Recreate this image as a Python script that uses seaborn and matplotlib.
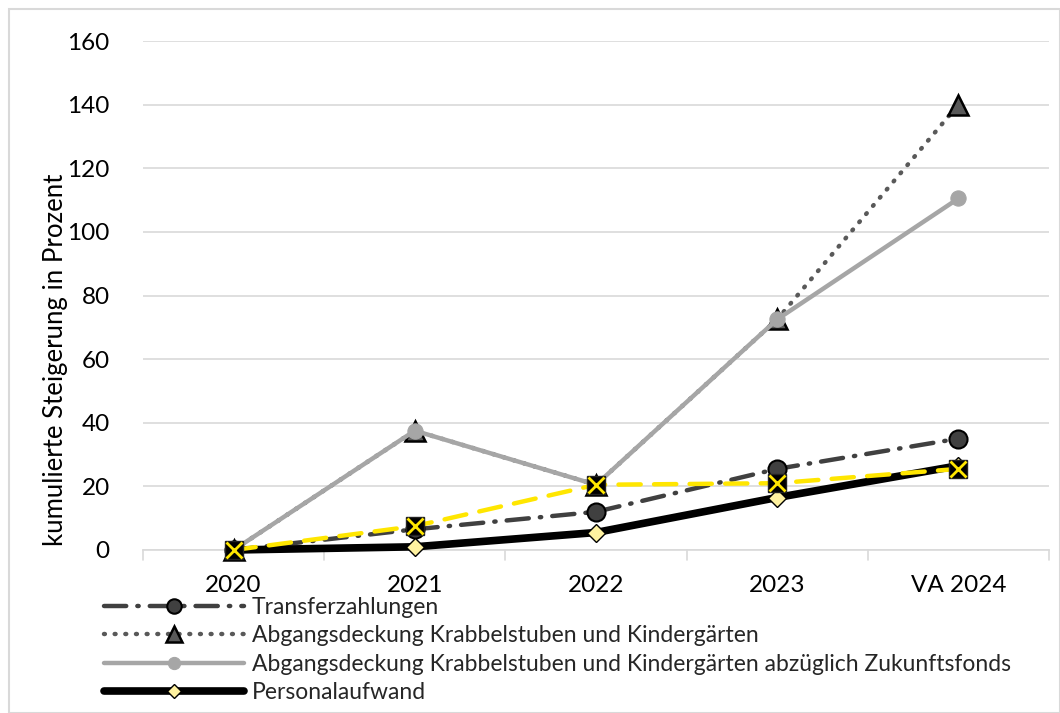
import matplotlib
matplotlib.use("Agg")
import matplotlib.pyplot as plt
from matplotlib.patches import Rectangle
import seaborn as sns
import pandas as pd

years = ["2020", "2021", "2022", "2023", "VA 2024"]
transferzahlungen = [0, 6.5, 12, 25.5, 35]
abgangsdeckung = [0, 37.5, 20.5, 72.5, 140]
abgangsdeckung_ohne_zf = [0, 37.5, 20.5, 72.5, 110.5]
personalaufwand = [0, 1, 5.5, 16.5, 26.5]
sonstige = [0, 7.5, 20.5, 21, 25.5]

labels = [
    "Transferzahlungen",
    "Abgangsdeckung Krabbelstuben und Kindergärten",
    "Abgangsdeckung Krabbelstuben und Kindergärten abzüglich Zukunftsfonds",
    "Personalaufwand",
]

sns.set_theme(style="white")
plt.rcParams["font.family"] = ["Lato", "DejaVu Sans"]

fig = plt.figure(figsize=(10.6, 7.13), dpi=100)
ax = fig.add_axes([143 / 1060, 1 - 550 / 713, (1049 - 143) / 1060, (550 - 41) / 713])

xpos = list(range(len(years)))

def frame(values):
    return pd.DataFrame({"x": xpos, "y": values})

sns.lineplot(data=frame(transferzahlungen), x="x", y="y", ax=ax, color="#404040",
             lw=3.2, linestyle=(0, (5, 2.5, 0.3, 2.5)), dash_capstyle="round",
             marker="o", markersize=13, markerfacecolor="#404040",
             markeredgecolor="black", markeredgewidth=1.5, label=labels[0], zorder=3)
sns.lineplot(data=frame(abgangsdeckung), x="x", y="y", ax=ax, color="#595959",
             lw=3.2, linestyle=(0, (0.2, 2.2)), dash_capstyle="round",
             marker="^", markersize=14, markerfacecolor="#595959",
             markeredgecolor="black", markeredgewidth=1.8, label=labels[1], zorder=4)
sns.lineplot(data=frame(abgangsdeckung_ohne_zf), x="x", y="y", ax=ax, color="#A6A6A6",
             lw=3.2, marker="o", markersize=11, markerfacecolor="#A6A6A6",
             markeredgecolor="#A6A6A6", label=labels[2], zorder=5)
sns.lineplot(data=frame(personalaufwand), x="x", y="y", ax=ax, color="black",
             lw=5.5, marker="D", markersize=9, markerfacecolor="#FFF2A0",
             markeredgecolor="black", markeredgewidth=1, label=labels[3], zorder=6)
sns.lineplot(data=frame(sonstige), x="x", y="y", ax=ax, color="#FFE600",
             lw=3.2, linestyle=(0, (5, 3)), dash_capstyle="round",
             marker="s", markersize=13, markerfacecolor="black",
             markeredgecolor="#222222", markeredgewidth=1, zorder=7, legend=False)
ax.plot(xpos, sonstige, linestyle="none", marker="x", markersize=11,
        markeredgecolor="#FFE600", markeredgewidth=2, zorder=8)
for line in ax.lines:
    line.set_clip_on(False)

ax.set_xlim(-0.5, len(years) - 0.5)
ax.set_ylim(0, 160)
ax.set_yticks(range(0, 161, 20))
ax.set_xticks(xpos)
ax.set_xticklabels(years)
ax.set_xlabel("")
ax.set_ylabel("kumulierte Steigerung in Prozent", fontsize=18.5, color="black")
ax.yaxis.set_label_coords(-0.083, 0.373)
ax.yaxis.grid(True, color="#D9D9D9", lw=1.2)
ax.xaxis.grid(False)
for side in ["top", "right", "left"]:
    ax.spines[side].set_visible(False)
ax.spines["bottom"].set_color("#D9D9D9")
ax.spines["bottom"].set_linewidth(1.2)
ax.spines["bottom"].set_zorder(0.5)
ax.tick_params(axis="both", labelsize=17.5, colors="black", length=0)
ax.tick_params(axis="x", pad=18)
ax.tick_params(axis="y", pad=24)

# category separators below the axis line
for b in range(len(years) + 1):
    ax.plot([b - 0.5, b - 0.5], [0, -3.2], color="#D9D9D9", lw=1.2,
            clip_on=False, zorder=0.5)

handles, lbls = ax.get_legend_handles_labels()
ax.get_legend().remove()
fig.legend(handles, lbls, loc="upper left", bbox_to_anchor=(104 / 1060, 1 - 597 / 713),
           frameon=False, fontsize=16.5, handlelength=6.1, handletextpad=0.35,
           labelspacing=0.32, borderpad=0, borderaxespad=0, markerscale=0.8)

fig.add_artist(Rectangle((9 / 1060, 0), 1 - 9 / 1060, 1 - 9 / 713, transform=fig.transFigure,
                         fill=False, edgecolor="#D9D9D9", lw=1.5))

fig.savefig("out.png", dpi=100)
